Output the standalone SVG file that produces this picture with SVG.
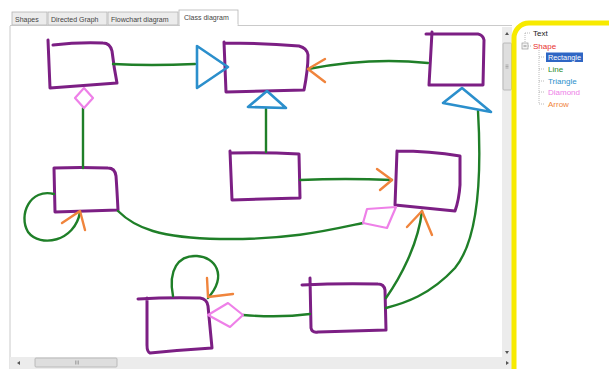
<svg xmlns="http://www.w3.org/2000/svg" width="609" height="369" viewBox="0 0 609 369">
  <defs>
    <style>
      .tab { font-family: "Liberation Sans", Arial, sans-serif; font-size: 7px; fill: #444; }
      .tabbox { fill: #ececec; stroke: #b4b4b4; stroke-width: 0.8; }
      .shape { fill: none; stroke: #7c1f84; stroke-width: 3; stroke-linecap: round; stroke-linejoin: round; }
      .edge { fill: none; stroke: #1f7f28; stroke-width: 2.4; stroke-linecap: round; stroke-linejoin: round; }
      .tri { fill: none; stroke: #2b8fcc; stroke-width: 2.6; stroke-linejoin: round; }
      .arrow { fill: none; stroke: #f0843c; stroke-width: 2.4; stroke-linecap: round; stroke-linejoin: round; }
      .dia { fill: none; stroke: #ee80e8; stroke-width: 2.2; stroke-linejoin: round; }
      .tree { font-family: "Liberation Sans", Arial, sans-serif; font-size: 8px; }
      .dot { stroke: #a8a8a8; stroke-width: 0.8; stroke-dasharray: 1 1; fill: none; }
      .sb { fill: #ececec; }
      .thumb { fill: #dedede; stroke: #b0b0b0; stroke-width: 0.8; }
      .glyph { fill: #555; }
    </style>
  </defs>

  <!-- window background -->
  <rect x="0" y="0" width="609" height="369" fill="#ffffff"/>

  <!-- tab strip -->
  <g id="tabs">
    <rect class="tabbox" x="12" y="12" width="35" height="13"/>
    <text class="tab" x="15" y="21.5">Shapes</text>
    <rect class="tabbox" x="48" y="12" width="59" height="13"/>
    <text class="tab" x="51" y="21.5">Directed Graph</text>
    <rect class="tabbox" x="108" y="12" width="70" height="13"/>
    <text class="tab" x="111" y="21.5">Flowchart diagram</text>
    <rect x="179" y="10" width="59" height="16" fill="#ffffff" stroke="#b4b4b4" stroke-width="0.8"/>
    <text class="tab" x="184" y="20">Class diagram</text>
  </g>

  <!-- drawing surface -->
  <g id="canvas-frame">
    <path d="M238,25.5 L512,25.5 M10,25.5 L179,25.5" stroke="#c4c4c4" stroke-width="0.9" fill="none"/>
    <rect x="10" y="26" width="492" height="331" fill="#ffffff"/>
    <line x1="10" y1="26" x2="10" y2="369" stroke="#c4c4c4" stroke-width="0.9"/>
    <rect x="180" y="24" width="57.5" height="3" fill="#ffffff"/>
  </g>

  <!-- scrollbars -->
  <g id="scrollbars">
    <rect class="sb" x="502" y="27" width="10" height="330"/>
    <path class="glyph" d="M505,35 L507,32 L509,35 Z"/>
    <rect class="thumb" x="503" y="43" width="8.5" height="47" rx="1"/>
    <path d="M505.5,65 h3 M505.5,66.5 h3 M505.5,68 h3" stroke="#888" stroke-width="0.6"/>
    <path class="glyph" d="M505,351 L507,354 L509,351 Z"/>
    <rect class="sb" x="10" y="357" width="502" height="12"/>
    <path class="glyph" d="M20,361 L17,363 L20,365 Z"/>
    <rect class="thumb" x="35" y="358" width="82" height="9" rx="1"/>
    <path d="M75.5,360.5 v4 M77,360.5 v4 M78.5,360.5 v4" stroke="#888" stroke-width="0.6"/>
    <path class="glyph" d="M506,361 L509,363 L506,365 Z"/>
  </g>

  <!-- class nodes -->
  <g id="node-a"><path class="shape" d="M48,40 Q49,64 50,88 L117,83 Q114,68 112,51 Q110,43 103,43 Q78,42 53,45"/></g>
  <g id="node-b"><path class="shape" d="M224,42 L226,92 L304,90 Q308,70 308,55 Q307,48 299,46 Q262,43 225,43"/></g>
  <g id="node-c"><path class="shape" d="M230,151 L232,200 L300,198 L299,154 Q265,152 231,153"/></g>
  <g id="node-d"><path class="shape" d="M54,168 L55,212 L118,210 Q117,190 116,176 Q115,168 108,168 Q80,167 54,168"/></g>
  <g id="node-e"><path class="shape" d="M397,151 L395,205 Q425,208 455,211 Q459,200 460,185 L460,156 Q430,151 397,151"/></g>
  <g id="node-f"><path class="shape" d="M432,32 L429,85 L483,85 L484,40 Q483,35 478,34 L426,34"/></g>
  <g id="node-g"><path class="shape" d="M310,278 L311,328 Q312,333 318,332 L386,330 L385,290 Q384,284 378,284 Q340,283 302,285"/></g>
  <g id="node-h"><path class="shape" d="M138,299 Q170,297 200,298 Q207,299 208,306 L212,348 Q180,350 150,353 Q147,352 147,345 L147,298"/></g>

  <!-- connectors -->
  <g id="connectors">
    <!-- A inherits B -->
    <path class="edge" d="M113,64 Q150,66 195,64"/>
    <path class="tri" d="M197,46 L197,88 L228,67 Z"/>
    <!-- C inherits B -->
    <path class="edge" d="M266,152 L266,109"/>
    <path class="tri" d="M267,91 L248,107 L286,108 Z"/>
    <!-- F association to B -->
    <path class="edge" d="M428,63 Q370,57 308,69"/>
    <path class="arrow" d="M325,59 L308,69 L325,82"/>
    <!-- G inherits F -->
    <path class="edge" d="M478,111 C482,180 478,240 455,268 C430,295 405,303 386,308"/>
    <path class="tri" d="M462,88 L443,103 L491,112 Z"/>
    <!-- G association to E -->
    <path class="edge" d="M386,298 C400,278 418,245 422,211"/>
    <path class="arrow" d="M407,227 L422,211 L432,235"/>
    <!-- C association to E -->
    <path class="edge" d="M300,180 Q345,178 392,180"/>
    <path class="arrow" d="M377,169 L392,180 L380,190"/>
    <!-- A aggregates D -->
    <path class="edge" d="M83,108 L83,168"/>
    <path class="dia" d="M84,88 L93,98 L84,108 L75,98 Z"/>
    <!-- D self association -->
    <path class="edge" d="M54,194 C30,188 18,215 28,232 C40,248 75,242 80,212"/>
    <path class="arrow" d="M62,223 L80,211 L85,230"/>
    <!-- E aggregates D -->
    <path class="edge" d="M118,211 C135,228 160,238 220,239 C290,240 330,230 363,223"/>
    <path class="dia" d="M363,223 L367,209 L396,207 L387,228 Z"/>
    <!-- H aggregates G -->
    <path class="edge" d="M310,314 Q280,318 243,315"/>
    <path class="dia" d="M208,315 L228,303 L243,315 L230,327 Z"/>
    <!-- H self association -->
    <path class="edge" d="M173,296 C168,270 178,255 197,256 C215,257 228,275 208,298"/>
    <path class="arrow" d="M207,278 L208,297 L233,294"/>
  </g>

  <!-- toolbox panel -->
  <g id="toolbox">
    <rect x="514" y="23" width="110" height="360" rx="15" fill="#ffffff" stroke="#f7ea00" stroke-width="5"/>
    <path class="dot" d="M525,33 L531,33 M525,33 L525,43 M528,46 L531,46 M539,50 L539,104 M539,57 L545,57 M539,69 L545,69 M539,81 L545,81 M539,92 L545,92 M539,104 L545,104"/>
    <rect x="522" y="43" width="6" height="6" fill="#f4f4f4" stroke="#9a9a9a" stroke-width="0.7"/>
    <line x1="523.5" y1="46" x2="526.5" y2="46" stroke="#555" stroke-width="0.7"/>
    <text class="tree" x="533" y="36" fill="#222">Text</text>
    <text class="tree" x="533" y="49" fill="#e83030">Shape</text>
    <rect x="546" y="52.5" width="37" height="9.5" fill="#2f66c4"/>
    <text class="tree" x="548" y="60" fill="#ffffff" textLength="33" lengthAdjust="spacingAndGlyphs">Rectangle</text>
    <text class="tree" x="548" y="72" fill="#2a8a2a">Line</text>
    <text class="tree" x="548" y="84" fill="#2a8fcc">Triangle</text>
    <text class="tree" x="548" y="95" fill="#ee80e8">Diamond</text>
    <text class="tree" x="548" y="107" fill="#f0843c">Arrow</text>
  </g>
</svg>
